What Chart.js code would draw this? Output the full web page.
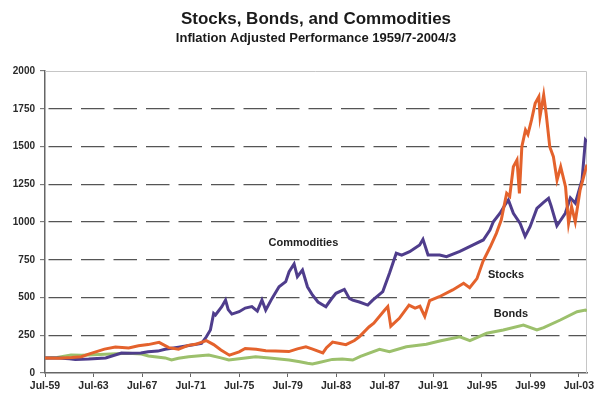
<!DOCTYPE html>
<html>
<head>
<meta charset="utf-8">
<title>Stocks, Bonds, and Commodities</title>
<script src="https://cdn.jsdelivr.net/npm/chart.js@4.4.0/dist/chart.umd.min.js"></script>
<style>
  html, body { margin: 0; padding: 0; background: #fff; }
  #chart { display: block; }
</style>
</head>
<body>
<canvas id="chart" width="605" height="417"></canvas>
<script>
// Inflation adjusted index values (1959/7 = 100)
// x values are decimal years (1959.5 = Jul-59)
const stockYears = [1959.5, 1960.6, 1961.7, 1962.5, 1963.1, 1964.4, 1965.3, 1966.4, 1967.2, 1968.0,
  1968.9, 1969.7, 1970.5, 1971.3, 1971.9, 1972.8, 1973.4, 1974.0, 1974.7, 1975.5,
  1976.0, 1976.9, 1977.7, 1978.5, 1979.6, 1980.3, 1981.0, 1981.5, 1982.4, 1982.7,
  1983.2, 1983.8, 1984.3, 1985.0, 1985.4, 1986.2, 1986.6, 1987.5, 1987.75, 1988.0,
  1988.7, 1989.5, 1990.0, 1990.4, 1990.8, 1991.2, 1992.0, 1993.1, 1994.0, 1994.5,
  1995.1, 1995.6, 1996.2, 1996.7, 1997.1, 1997.55, 1997.8, 1998.1, 1998.4, 1998.6,
  1998.8, 1999.1, 1999.3, 1999.6, 1999.9, 2000.2, 2000.3, 2000.6, 2000.8, 2001.1,
  2001.4, 2001.7, 2002.0, 2002.4, 2002.65, 2002.9, 2003.2, 2003.6, 2004.04, 2004.17];
const stockValues = [100, 97, 102, 108, 125, 158, 172, 165, 180, 188,
  203, 168, 158, 183, 190, 214, 188, 152, 118, 140,
  162, 157, 148, 145, 142, 160, 174, 160, 133, 168,
  205, 196, 188, 215, 240, 305, 330, 417, 440, 310,
  362, 450, 430, 442, 375, 480, 505, 550, 594, 565,
  625, 740, 836, 925, 1013, 1190, 1170, 1366, 1411, 1190,
  1499, 1609, 1580, 1676, 1786, 1830, 1700, 1841, 1720, 1499,
  1433, 1278, 1366, 1234, 991, 1101, 1002, 1212, 1344, 1380];

const commodityYears = [1959.5, 1960.6, 1961.5, 1962.0, 1963.1, 1964.5, 1965.8, 1966.4, 1967.4, 1968.0,
  1968.8, 1969.4, 1970.5, 1971.6, 1972.4, 1972.8, 1973.13, 1973.4, 1973.55, 1974.07,
  1974.38, 1974.6, 1974.9, 1975.5, 1976.0, 1976.55, 1977.0, 1977.38, 1977.69, 1978.21,
  1978.79, 1979.34, 1979.62, 1980.03, 1980.3, 1980.72, 1981.13, 1981.54, 1982.0, 1982.65,
  1983.1, 1983.48, 1984.17, 1984.58, 1984.86, 1985.41, 1986.1, 1986.51, 1987.34, 1987.89,
  1988.45, 1988.9, 1989.55, 1990.38, 1990.65, 1991.07, 1992.03, 1992.59, 1993.69, 1994.79,
  1995.62, 1996.17, 1996.45, 1997.0, 1997.41, 1997.69, 1998.1, 1998.66, 1999.07, 1999.48,
  2000.04, 2000.59, 2001.0, 2001.2, 2001.69, 2001.9, 2002.38, 2002.8, 2003.21, 2003.76,
  2004.04, 2004.17];
const commodityValues = [100, 99, 95, 90, 92, 100, 132, 130, 132, 141,
  145, 157, 170, 185, 196, 240, 285, 395, 384, 439,
  483, 420, 390, 406, 430, 440, 410, 483, 417, 494,
  571, 605, 671, 722, 638, 682, 571, 517, 470, 439,
  490, 528, 554, 494, 483, 470, 450, 483, 539, 660,
  793, 780, 803, 848, 885, 781, 781, 770, 805, 848,
  881, 947, 1002, 1058, 1113, 1146, 1058, 991, 905, 969,
  1090, 1130, 1157, 1110, 975, 1000, 1058, 1160, 1124, 1278,
  1543, 1530];

const bondYears = [1959.5, 1960.5, 1961.65, 1962.5, 1964.44, 1966.37, 1967.45, 1968.03, 1969.4, 1969.93,
  1970.5, 1971.34, 1972.5, 1973.0, 1974.0, 1974.65, 1975.5, 1976.86, 1978.0, 1979.62,
  1980.5, 1981.13, 1981.54, 1982.0, 1983.18, 1984.0, 1984.86, 1985.5, 1987.07, 1987.89,
  1989.28, 1990.93, 1992.03, 1993.69, 1994.52, 1995.9, 1997.27, 1998.93, 2000.04, 2000.6,
  2001.97, 2003.35, 2004.04, 2004.17];
const bondValues = [100, 103, 119, 118, 124, 130, 126, 113, 100, 86,
  98, 108, 116, 119, 100, 86, 95, 108, 100, 86,
  75, 64, 60, 68, 90, 92, 86, 110, 157, 141,
  174, 190, 212, 240, 214, 263, 285, 318, 285, 300,
  351, 406, 417, 410];

const seriesNames = ['Stocks', 'Commodities', 'Bonds'];
const seriesColors = ['#e4622c', '#4f3d8c', '#9cc06c'];

const xTickYears = [1959.5, 1963.5, 1967.5, 1971.5, 1975.5, 1979.5, 1983.5, 1987.5, 1991.5, 1995.5, 1999.5, 2003.5];
const xTickLabels = ['Jul-59', 'Jul-63', 'Jul-67', 'Jul-71', 'Jul-75', 'Jul-79', 'Jul-83', 'Jul-87', 'Jul-91', 'Jul-95', 'Jul-99', 'Jul-03'];
const yTicks = [0, 250, 500, 750, 1000, 1250, 1500, 1750, 2000];

// in-plot series labels (placed in data coordinates)
const labelNames = ['Commodities', 'Stocks', 'Bonds'];
const labelYears = [1980.8, 1997.5, 1997.9];
const labelValues = [860, 649, 391];

const titleText = 'Stocks, Bonds, and Commodities';
const subtitleText = 'Inflation Adjusted Performance 1959/7-2004/3';

const fontFamily = '"Liberation Sans", Arial, Helvetica, sans-serif';
Chart.defaults.font.family = fontFamily;

function toPoints(xs, ys) {
  return xs.map((x, i) => ({ x: x, y: ys[i] }));
}

// light frame on top/right plus the text labels next to the lines
const frameAndLabels = {
  id: 'frameAndLabels',
  beforeDatasetsDraw(chart) {
    const { ctx, chartArea: a } = chart;
    ctx.save();
    ctx.strokeStyle = '#c6c6c6';
    ctx.lineWidth = 1;
    ctx.beginPath();
    ctx.moveTo(a.left, a.top + 0.5);
    ctx.lineTo(a.right - 0.5, a.top + 0.5);
    ctx.lineTo(a.right - 0.5, a.bottom);
    ctx.stroke();
    ctx.restore();
  },
  afterDatasetsDraw(chart) {
    const { ctx, scales: { x, y } } = chart;
    ctx.save();
    ctx.font = 'bold 11px ' + fontFamily;
    ctx.fillStyle = '#222';
    ctx.textAlign = 'center';
    ctx.textBaseline = 'middle';
    labelNames.forEach((name, i) => {
      ctx.fillText(name, x.getPixelForValue(labelYears[i]), y.getPixelForValue(labelValues[i]));
    });
    ctx.restore();
  }
};

const seriesData = [
  toPoints(stockYears, stockValues),
  toPoints(commodityYears, commodityValues),
  toPoints(bondYears, bondValues)
];

new Chart(document.getElementById('chart'), {
  type: 'line',
  data: {
    datasets: seriesNames.map((name, i) => ({
      label: name,
      data: seriesData[i],
      borderColor: seriesColors[i],
      backgroundColor: seriesColors[i],
      borderWidth: 3,
      pointRadius: 0,
      tension: 0,
      fill: false
    }))
  },
  options: {
    responsive: false,
    animation: false,
    layout: { padding: { top: 0, left: 0, right: 18, bottom: 0 } },
    plugins: {
      legend: { display: false },
      tooltip: { enabled: false },
      title: {
        display: true,
        text: titleText,
        fullSize: false,
        color: '#1a1a1a',
        font: { size: 17, weight: 'bold' },
        padding: { top: 9, bottom: 0 }
      },
      subtitle: {
        display: true,
        text: subtitleText,
        fullSize: false,
        color: '#1a1a1a',
        font: { size: 13, weight: 'bold' },
        padding: { top: 1, bottom: 25 }
      }
    },
    scales: {
      x: {
        type: 'linear',
        min: 1959.5,
        max: 2004.17,
        afterBuildTicks: s => { s.ticks = xTickYears.map(v => ({ value: v })); },
        afterFit: s => { s.height = 44; },
        grid: { drawOnChartArea: false, drawTicks: true, tickLength: 4, tickColor: '#666', tickWidth: 1 },
        border: { display: true, color: '#666', width: 1.5 },
        ticks: {
          autoSkip: false,
          maxRotation: 0,
          padding: 3,
          color: '#2a2a2a',
          font: { size: 10.5, weight: 'bold' },
          callback: (v, i) => xTickLabels[i]
        }
      },
      y: {
        min: 0,
        max: 2000,
        afterBuildTicks: s => { s.ticks = yTicks.map(v => ({ value: v })); },
        afterFit: s => { s.width = 45; },
        grid: {
          color: c => (c.tick && (c.tick.value === 0 || c.tick.value === 2000)) ? 'rgba(0,0,0,0)' : '#555',
          lineWidth: 1.3,
          tickLength: 5,
          tickColor: '#666',
          tickWidth: 1,
          tickBorderDash: []
        },
        border: { display: true, color: '#666', width: 1.5, dash: [23.5, 9], dashOffset: 29.5 },
        ticks: {
          padding: 5,
          color: '#2a2a2a',
          font: { size: 10, weight: 'bold' },
          callback: v => v
        }
      }
    }
  },
  plugins: [frameAndLabels]
});
</script>
</body>
</html>
